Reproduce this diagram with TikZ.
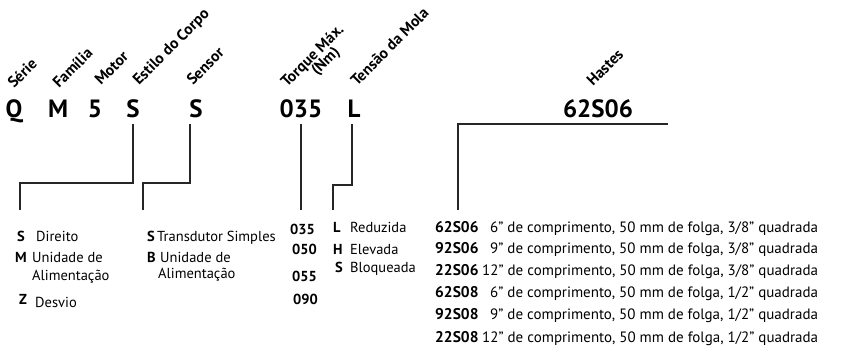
\documentclass[tikz,border=0pt]{standalone}
\usepackage{fontspec}
\setmainfont{PT Sans}
\usetikzlibrary{calc,positioning}

\begin{document}
\begin{tikzpicture}[x=1pt,y=-1pt,
  big/.style={font=\fontsize{25}{25}\selectfont\bfseries,inner sep=0pt,anchor=base},
  tag/.style={font=\fontsize{15.5}{15.5}\selectfont\bfseries,inner sep=0pt,rotate=45,anchor=base west},
  key/.style={font=\fontsize{14.5}{14.5}\selectfont\bfseries,inner sep=0pt,anchor=base west},
  opt/.style={font=\fontsize{14.5}{14.5}\selectfont,inner sep=0pt,anchor=base west},
  lead/.style={line width=1.6pt,black!85}]
  \useasboundingbox (0,0) rectangle (844,352);
  \foreach \n/\x/\t in {q/14/Q,m/58/M,five/95/5,sbody/133/S,ssens/196/S,torq/301/035,lmola/354/L,hastes/598/62S06}
    \node[big] (\n) at (\x,118) {\t};
  \foreach \n/\x/\y/\t in {serie/14/89/Série,fam/59/89/Família,mot/101/86/Motor,corpo/139/86/Estilo do Corpo,
      sens/193/86/Sensor,tq/287/88/Torque Máx.,nm/317/76/(Nm),mola/357/87/Tensão da Mola,hst/593/87/Hastes}
    \node[tag] (h\n) at (\x,\y) {\t};
  \coordinate (e1) at (20,210); \coordinate (e2) at (143,210); \coordinate (e3) at (301,210);
  \coordinate (e4) at (333,210); \coordinate (e5) at (458,210); \coordinate (hbar) at (668,124);
  \draw[lead] (sbody.base) ++(0,6) -- ++(0,59) -| (e1);
  \draw[lead] (ssens.base) ++(-6,6) -- ++(0,59) -| (e2);
  \draw[lead] (torq.base) ++(0,6) -- (e3);
  \draw[lead] (lmola.base) ++(-2,6) -- ++(0,61) -| (e4);
  \draw[lead] (hbar) -| (e5);
  % estilo do corpo
  \node[key] (k1) at (17,242) {S};  \node[opt] (o1) at (36,242) {Direito};
  \node[key] (k2) at (15,263) {M};  \node[opt] (o2) at (32,263) {Unidade de};
  \node[opt] (o2b) at (32,281) {Alimentação};
  \node[key] (k3) at (19,305) {Z};  \node[opt] (o3) at (35,308) {Desvio};
  % sensor
  \node[key] (s1) at (147,242) {S}; \node[opt] (t1) at (157,242) {Transdutor Simples};
  \node[key] (s2) at (147,263) {B}; \node[opt] (t2) at (160,263) {Unidade de};
  \node[opt] (t2b) at (158,279) {Alimentação};
  % torque
  \foreach \t/\x/\y in {035/290/235,050/292/255,055/292/282,090/293/305}
    \node[key] (n\t) at (\x,\y) {\t};
  % mola
  \foreach \k/\x/\y/\t [count=\i] in {L/333/233/Reduzida,H/333/255/Elevada,S/335/273/Bloqueada}
    \node[key] (m\i) at (\x,\y) {\k} node[opt] (mt\i) at (350,\y) {\t};
  % hastes
  \foreach \c/\y/\dx/\d [count=\i] in {62S06/233/490/{6" de comprimento, 50 mm de folga, 3/8" quadrada},
      92S06/254/490/{9" de comprimento, 50 mm de folga, 3/8" quadrada},
      22S06/276/482/{12" de comprimento, 50 mm de folga, 3/8" quadrada},
      62S08/298/490/{6" de comprimento, 50 mm de folga, 1/2" quadrada},
      92S08/320/490/{9" de comprimento, 50 mm de folga, 1/2" quadrada},
      22S08/343/482/{12" de comprimento, 50 mm de folga, 1/2" quadrada}}
    \node[key,font=\fontsize{15.5}{15.5}\selectfont\bfseries] (c\i) at (435,\y) {\c}
      node[opt,font=\fontsize{15}{15}\selectfont] (d\i) at (\dx,\y) {\d};
\end{tikzpicture}
\end{document}
